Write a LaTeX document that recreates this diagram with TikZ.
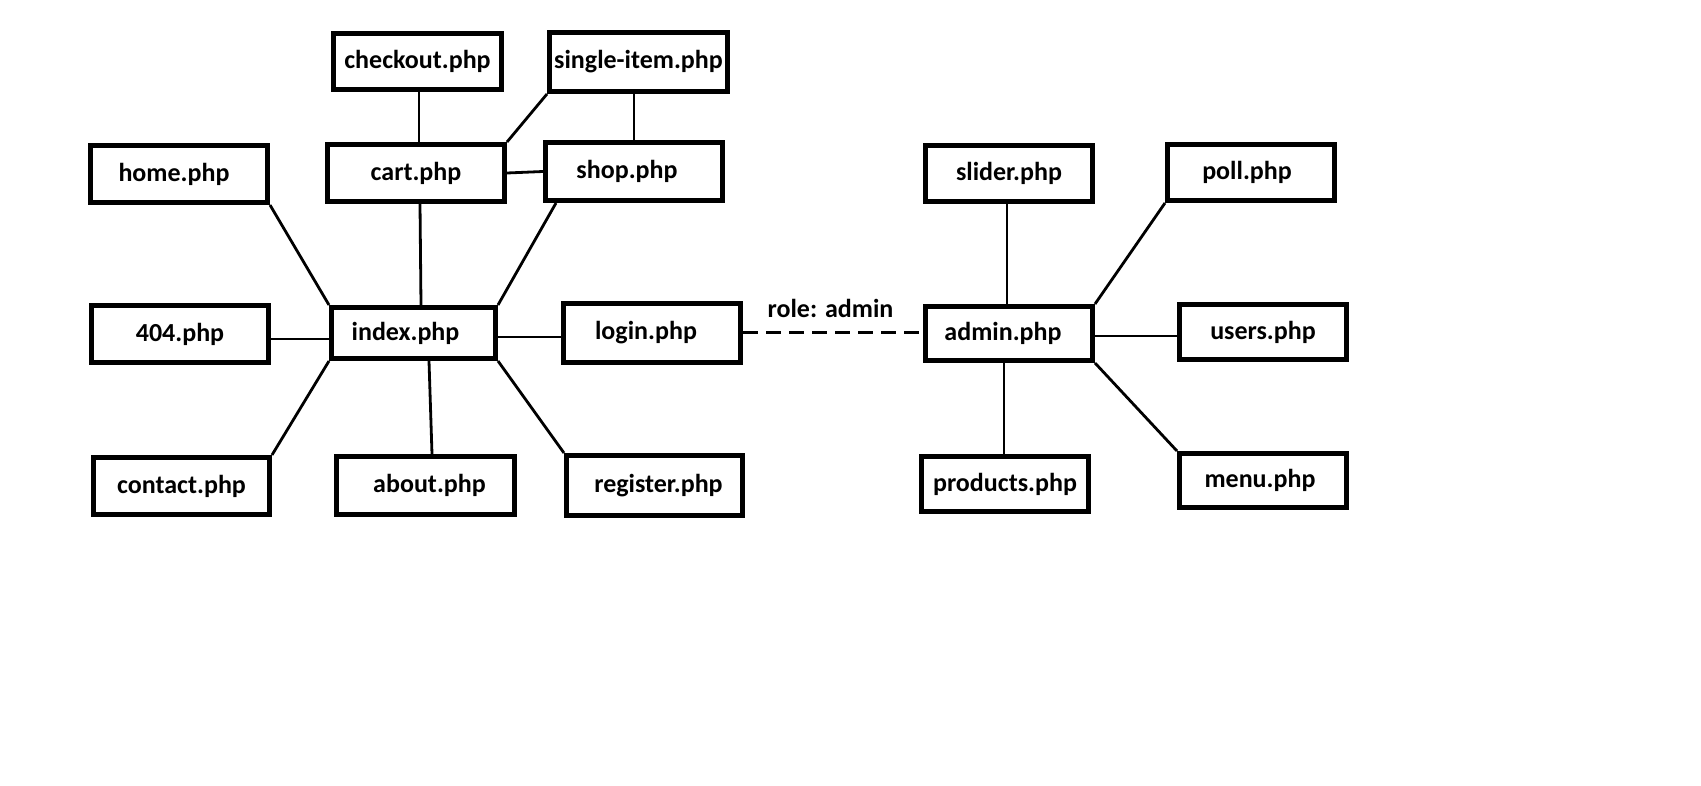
\documentclass[tikz,border=0pt]{standalone}
\usepackage{fontspec}
\setmainfont{Carlito}
\usetikzlibrary{calc}
\tikzset{
  pagebox/.style={draw, line width=5pt, inner sep=0pt, fill=white,
    font=\fontsize{26}{30}\selectfont\bfseries},
  conn/.style={line width=2.8pt},
  dashconn/.style={line width=3pt, dash pattern=on 15pt off 8pt},
  lbl/.style={font=\fontsize{26}{30}\selectfont\bfseries, inner sep=0pt}
}
\begin{document}
\begin{tikzpicture}[x=1pt,y=-1pt]
\useasboundingbox[fill=white] (0,0) rectangle (1701,786);
% boxes
\node[pagebox, minimum width=168pt, minimum height=56pt] (checkout) at (417.5,61.5) {checkout.php};
\node[pagebox, minimum width=178pt, minimum height=59pt] (single) at (638.5,62) {single-item.php};
\node[pagebox, minimum width=177pt, minimum height=57pt] (cart) at (416,173) {cart.php};
\node[pagebox, minimum width=177pt, minimum height=58pt] (shop) at (634,171.5) {\kern-14pt shop.php};
\node[pagebox, minimum width=177pt, minimum height=57pt] (home) at (179,174) {\kern-10pt home.php};
\node[pagebox, minimum width=164pt, minimum height=51pt] (index) at (413.5,333) {\kern-16pt index.php};
\node[pagebox, minimum width=177pt, minimum height=57pt] (e404) at (180,334) {404.php};
\node[pagebox, minimum width=177pt, minimum height=59pt] (login) at (652,333) {\kern-12pt login.php};
\node[pagebox, minimum width=176pt, minimum height=57pt] (contact) at (181.5,486) {contact.php};
\node[pagebox, minimum width=178pt, minimum height=58pt] (about) at (425.5,485.5) {about.php\kern-8pt};
\node[pagebox, minimum width=176pt, minimum height=60pt] (register) at (654.5,485.5) {register.php\kern-8pt};
\node[pagebox, minimum width=167pt, minimum height=56pt] (slider) at (1009,173.5) {slider.php};
\node[pagebox, minimum width=167pt, minimum height=56pt] (poll) at (1251,172.5) {\kern-8pt poll.php};
\node[pagebox, minimum width=167pt, minimum height=54pt] (admin) at (1009,333.5) {\kern-12pt admin.php};
\node[pagebox, minimum width=167pt, minimum height=55pt] (users) at (1263,332) {users.php};
\node[pagebox, minimum width=167pt, minimum height=55pt] (products) at (1005,484) {products.php};
\node[pagebox, minimum width=167pt, minimum height=54pt] (menu) at (1263,480.5) {\kern-6pt menu.php};
% connectors
\draw[conn] ([xshift=1.5pt]checkout.south) -- ([xshift=1.5pt]checkout.south |- cart.north);
\draw[conn] (single.south west) -- (cart.north east);
\draw[conn] (shop.north) -- (shop.north |- single.south);
\draw[conn] (cart.east) -- (shop.west);
\draw[conn] ([xshift=4pt]cart.south) -- ([xshift=7.5pt]index.north);
\draw[conn] (home.south east) -- (index.north west);
\draw[conn] ([xshift=13pt]shop.south west) -- (index.north east);
\draw[conn] ([yshift=-5pt]e404.east) -- ([yshift=-5pt]e404.east -| index.west);
\draw[conn] ([yshift=-4pt]index.east) -- ([yshift=-4pt]index.east -| login.west);
\draw[conn] (index.south west) -- (contact.north east);
\draw[conn] ([xshift=15.5pt]index.south) -- ([xshift=6.5pt]about.north);
\draw[conn] (index.south east) -- (register.north west);
\draw[dashconn] (login.east) -- (login.east -| admin.west);
\node[lbl, anchor=base] (role) at (830.5,318) {role: admin};
\draw[conn] ([xshift=-2pt]slider.south) -- ([xshift=-2pt]slider.south |- admin.north);
\draw[conn] (poll.south west) -- (admin.north east);
\draw[conn] ([yshift=-2.5pt]admin.east) -- ([yshift=-2.5pt]admin.east -| users.west);
\draw[conn] ([xshift=-1pt]products.north) -- ([xshift=-1pt]products.north |- admin.south);
\draw[conn] (admin.south east) -- (menu.north west);
\end{tikzpicture}
\end{document}
